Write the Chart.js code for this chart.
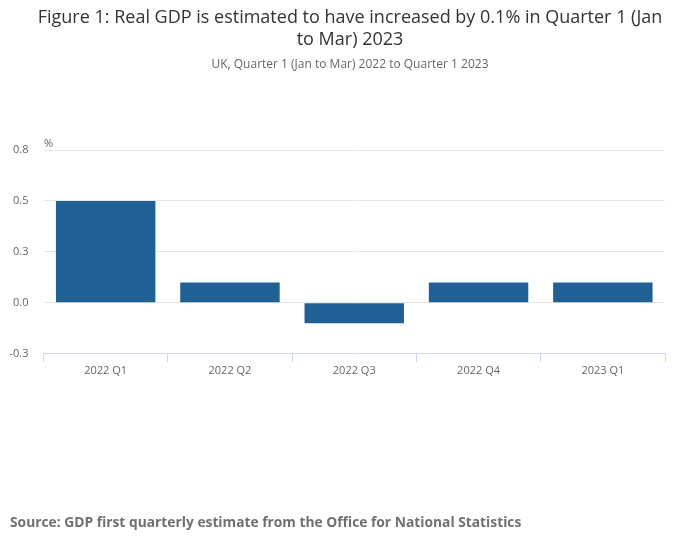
<!DOCTYPE html>
<html>
<head>
<meta charset="utf-8">
<script src="https://cdn.jsdelivr.net/npm/chart.js@4/dist/chart.umd.min.js"></script>
<style>
  html, body { margin: 0; padding: 0; background: #fff; }
  #wrap { position: relative; width: 700px; height: 549px; font-family: "Open Sans", sans-serif; }
  #chartGdp { position: absolute; left: 0; top: 0; }
  #title {
    position: absolute; left: 0; top: 5px; width: 700px; text-align: center;
    font-size: 18px; line-height: 22px; color: #333333;
  }
  #subtitle {
    position: absolute; left: 0; top: 56px; width: 700px; text-align: center;
    font-size: 12px; line-height: 16px; color: #666666;
  }
  #source {
    position: absolute; left: 10px; top: 512px;
    font-size: 13.8px; font-weight: bold; color: #707070;
  }
</style>
</head>
<body>
<div id="wrap">
  <canvas id="chartGdp" width="700" height="549"></canvas>
  <div id="title"></div>
  <div id="subtitle"></div>
  <div id="source"></div>
</div>
<script>
// data dari gambar
const quarters = ["2022 Q1", "2022 Q2", "2022 Q3", "2022 Q4", "2023 Q1"];
const gdpGrowth = [0.5, 0.1, -0.1, 0.1, 0.1];
const yTicks = [-0.25, 0, 0.25, 0.5, 0.75];

const titleLines = [
  "Figure 1: Real GDP is estimated to have increased by 0.1% in Quarter 1 (Jan",
  "to Mar) 2023",
];
const subtitleText = "UK, Quarter 1 (Jan to Mar) 2022 to Quarter 1 2023";
const sourceText = "Source: GDP first quarterly estimate from the Office for National Statistics";
const unitLabel = "%";

const fontFamily = "'Open Sans', sans-serif";

document.getElementById("title").innerHTML = titleLines.join("<br>");
document.getElementById("subtitle").textContent = subtitleText;
document.getElementById("source").textContent = sourceText;

// label "%" di atas sumbu Y
const unitPlugin = {
  id: "unitLabel",
  afterDraw(chart) {
    const { ctx, chartArea } = chart;
    ctx.save();
    ctx.font = "11px " + fontFamily;
    ctx.fillStyle = "#666666";
    ctx.textAlign = "left";
    ctx.textBaseline = "alphabetic";
    ctx.fillText(unitLabel, chartArea.left + 0.5, chartArea.top - 3);
    ctx.restore();
  },
};

const ctx = document.getElementById("chartGdp").getContext("2d");
new Chart(ctx, {
  type: "bar",
  data: {
    labels: quarters,
    datasets: [
      {
        label: "Real GDP",
        data: gdpGrowth,
        backgroundColor: "#206095",
        borderWidth: 0,
        categoryPercentage: 0.8,
        barPercentage: 1,
      },
    ],
  },
  options: {
    responsive: false,
    animation: false,
    layout: { padding: { left: 0, right: 35, top: 150, bottom: 170 } },
    plugins: {
      legend: { display: false },
      tooltip: { enabled: false },
      title: { display: false },
    },
    scales: {
      y: {
        min: -0.25,
        max: 0.75,
        afterBuildTicks: (scale) => {
          scale.ticks = yTicks.map((v) => ({ value: v }));
        },
        afterFit: (scale) => {
          scale.width = 43.5;
        },
        ticks: {
          color: "#666666",
          font: { family: fontFamily, size: 11 },
          padding: 15,
          callback: (v) => Number(v).toFixed(1),
        },
        grid: { color: "#e6e6e6", drawTicks: false },
        border: { display: false },
      },
      x: {
        offset: true,
        ticks: {
          color: "#666666",
          font: { family: fontFamily, size: 11 },
          padding: 2,
        },
        grid: {
          offset: true,
          drawOnChartArea: false,
          color: "#ccd6eb",
          tickLength: 8,
        },
        border: { color: "#ccd6eb" },
      },
    },
  },
  plugins: [unitPlugin],
});
</script>
</body>
</html>
